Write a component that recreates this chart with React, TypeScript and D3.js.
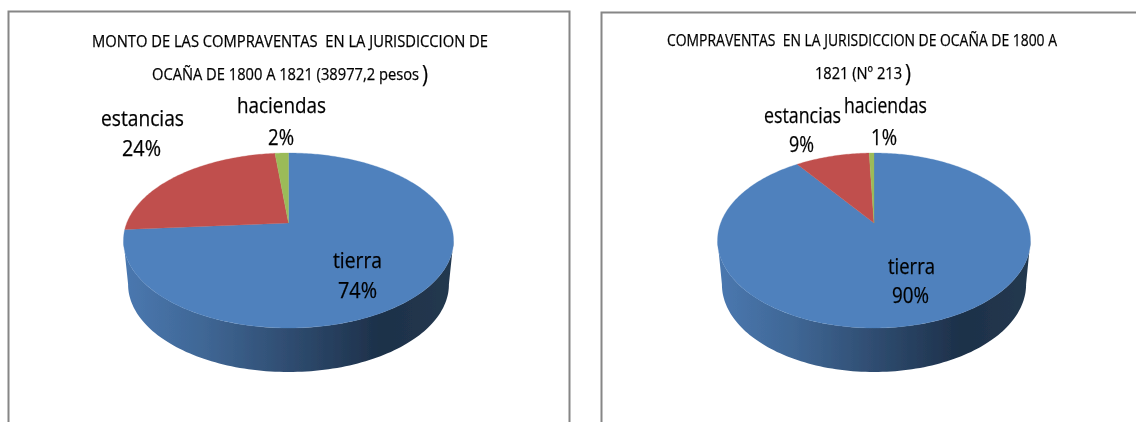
import React from "react";
import * as d3 from "d3";

const categories = ["tierra", "estancias", "haciendas"];
const leftValues = [73.8, 24.6, 1.6];
const rightValues = [90.1, 9.3, 0.6];
const leftPercents = ["74%", "24%", "2%"];
const rightPercents = ["90%", "9%", "1%"];
const colors = ["#4F81BD", "#C0504D", "#9BBB59"];

type T = { x: number; y: number; len: number; s: string; size: number };
const leftTexts: T[] = [
  { x: 92, y: 47, len: 396, s: "MONTO DE LAS COMPRAVENTAS  EN LA JURISDICCION DE", size: 16 },
  { x: 152, y: 80, len: 267, s: "OCAÑA DE 1800 A 1821 (38977,2 pesos", size: 16 },
  { x: 422, y: 82, len: 6, s: ")", size: 24 },
  { x: 101, y: 126, len: 83, s: categories[1], size: 22 },
  { x: 122, y: 156, len: 39, s: leftPercents[1], size: 22 },
  { x: 237, y: 113, len: 89, s: categories[2], size: 22 },
  { x: 268, y: 145, len: 26, s: leftPercents[2], size: 22 },
  { x: 333, y: 268, len: 49, s: categories[0], size: 22 },
  { x: 338, y: 298, len: 39, s: leftPercents[0], size: 22 },
];
const rightTexts: T[] = [
  { x: 667, y: 46, len: 390, s: "COMPRAVENTAS  EN LA JURISDICCION DE OCAÑA DE 1800 A", size: 16 },
  { x: 815, y: 79, len: 87, s: "1821 (Nº 213", size: 16 },
  { x: 905, y: 81, len: 6, s: ")", size: 24 },
  { x: 764, y: 123, len: 77, s: categories[1], size: 22 },
  { x: 789, y: 152, len: 25, s: rightPercents[1], size: 22 },
  { x: 844, y: 113, len: 83, s: categories[2], size: 22 },
  { x: 871, y: 145, len: 26, s: rightPercents[2], size: 22 },
  { x: 888, y: 274, len: 47, s: categories[0], size: 22 },
  { x: 892, y: 303, len: 37, s: rightPercents[0], size: 22 },
];

const pieGen = d3.pie<number>().sort(null);
const line = d3.line<[number, number]>();
const P = 0.2;
const K = 84;
const APEX_Y = 223;

function project(cx: number, rx: number, a: number): [number, number] {
  const u = Math.sin(a);
  const v = Math.cos(a);
  const w = 1 + P * v;
  return [cx + (rx * u) / w, APEX_Y - (K * v) / w];
}

function slicePath(cx: number, rx: number, a0: number, a1: number) {
  const n = Math.max(2, Math.ceil((a1 - a0) * 60));
  const pts: [number, number][] = [[cx, APEX_Y]];
  d3.range(n + 1).forEach((i) => pts.push(project(cx, rx, a0 + ((a1 - a0) * i) / n)));
  return line(pts) + "Z";
}

function sidePath(cx: number, rx: number, depth: number) {
  const start = Math.PI / 2 + Math.atan(P);
  const a = d3.range(0, 121).map((i) => start + ((2 * Math.PI - 2 * (start - Math.PI / 2) - Math.PI) * i) / 120);
  const top = a.map((t) => project(cx, rx, t));
  const bottom = a
    .map((t): [number, number] => {
      const [x, y] = project(cx, rx * 0.972, t);
      return [x, y + depth];
    })
    .reverse();
  return line([...top, ...bottom]) + "Z";
}

function Pie({ id, cx, rx, values, texts }: { id: string; cx: number; rx: number; values: number[]; texts: T[] }) {
  const arcs = pieGen(values);
  return (
    <g>
      <defs>
        <linearGradient id={id} x1="0" x2="1" y1="0" y2="0">
          <stop offset="0" stopColor="#4A78B0" />
          <stop offset="0.25" stopColor="#3F6694" />
          <stop offset="0.78" stopColor="#1D3049" />
          <stop offset="1" stopColor="#24394F" />
        </linearGradient>
      </defs>
      <path d={sidePath(cx, rx, 44)} fill={`url(#${id})`} />
      {arcs.map((d, i) => (
        <path
          key={i}
          d={slicePath(cx, rx, d.startAngle, d.endAngle)}
          fill={colors[i]}
          stroke={colors[i]}
          strokeWidth={0.3}
        />
      ))}
      {texts.map((t, i) => (
        <text
          key={i}
          x={t.x}
          y={t.y}
          fontSize={t.size}
          textLength={t.len}
          lengthAdjust="spacingAndGlyphs"
          fontFamily="'Open Sans', 'Noto Sans', sans-serif"
          fill="#000"
          stroke="#000"
          strokeWidth={0.25}
          style={{ whiteSpace: "pre" }}
        >
          {t.s}
        </text>
      ))}
    </g>
  );
}

export default function App() {
  return (
    <svg
      width={1136}
      height={422}
      style={{ position: "absolute", left: 0, top: 0, background: "#fff" }}
    >
      <defs>
        <filter id="soft" x="-2%" y="-2%" width="104%" height="104%">
          <feGaussianBlur stdDeviation="0.45" />
        </filter>
      </defs>
      <g filter="url(#soft)">
        <path d="M8.5 422V11.5H569.5V422" fill="none" stroke="#868686" strokeWidth={2} />
        <path d="M601.5 422V12.5H1137" fill="none" stroke="#868686" strokeWidth={2} />
        <Pie id="sideL" cx={288.5} rx={161.7} values={leftValues} texts={leftTexts} />
        <Pie id="sideR" cx={874} rx={153.3} values={rightValues} texts={rightTexts} />
      </g>
    </svg>
  );
}
